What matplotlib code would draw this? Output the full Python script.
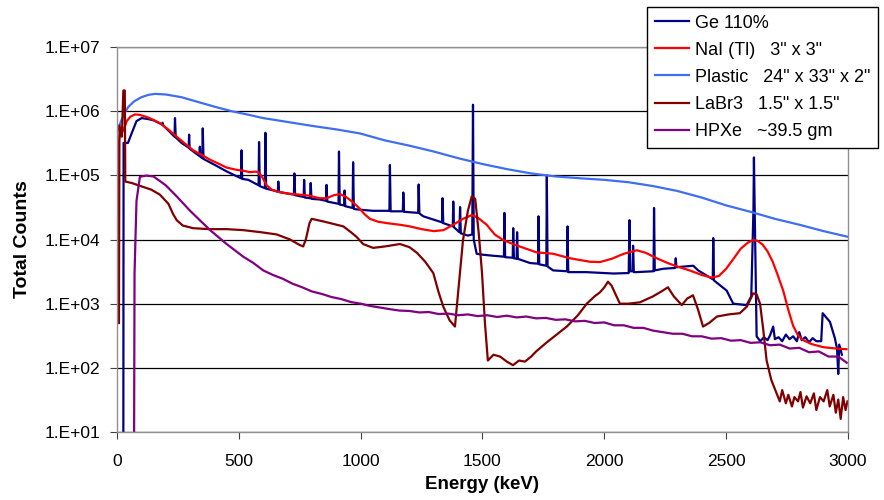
import numpy as np
import matplotlib.pyplot as plt
from matplotlib.ticker import FixedLocator, NullLocator

# ---- data (energy in keV, total counts) ----
ge_e = [26, 27, 45, 60, 80, 101, 130, 150, 185, 187, 190, 236, 238, 241, 265,
        294, 296, 298, 338, 340, 342, 350, 352, 355, 402, 450, 509, 511, 514,
        539, 581, 583, 586, 607, 609, 612, 635, 660, 662, 665, 700, 726, 728,
        731, 766, 768, 771, 792, 795, 798, 833, 858, 860, 863, 909, 911, 914,
        932, 934, 937, 967, 969, 972, 983, 1050, 1118, 1120, 1123, 1173, 1175,
        1178, 1236, 1238, 1241, 1257, 1325, 1334, 1336, 1339, 1378, 1380, 1383,
        1405, 1408, 1411, 1440, 1458, 1461, 1464, 1476, 1500, 1540, 1588, 1590,
        1593, 1624, 1626, 1629, 1640, 1642, 1645, 1695, 1728, 1730, 1733, 1762,
        1764, 1767, 1790, 1847, 1849, 1852, 1927, 2037, 2100, 2103, 2106, 2116,
        2118, 2121, 2130, 2202, 2204, 2207, 2242, 2290, 2293, 2296, 2365, 2385,
        2445, 2447, 2450, 2502, 2529, 2584, 2603, 2612, 2614, 2617, 2625, 2640,
        2655, 2670, 2680, 2693, 2700, 2715, 2730, 2745, 2760, 2775, 2790, 2800,
        2810, 2825, 2840, 2855, 2870, 2890, 2896, 2926, 2946, 2955, 2960, 2964,
        2975]
ge_counts = [5, 3.2e5, 3.2e5, 4.5e5, 7.0e5, 7.8e5, 7.5e5, 7.2e5, 6.2e5, 6.6e5,
             6.0e5, 4.0e5, 7.8e5, 3.9e5, 3.2e5, 2.7e5, 4.3e5, 2.6e5, 2.0e5,
             2.8e5, 1.95e5, 1.85e5, 5.4e5, 1.8e5, 1.45e5, 1.15e5, 9.0e4, 2.45e5,
             8.8e4, 8.5e4, 7.0e4, 3.3e5, 6.8e4, 6.3e4, 4.6e5, 6.2e4, 5.9e4,
             5.6e4, 8.0e4, 5.5e4, 5.2e4, 5.0e4, 1.07e5, 4.9e4, 4.6e4, 8.5e4,
             4.5e4, 4.4e4, 7.6e4, 4.3e4, 4.2e4, 4.0e4, 7.1e4, 3.9e4, 3.6e4,
             2.35e5, 3.5e4, 3.4e4, 5.8e4, 3.3e4, 3.1e4, 1.6e5, 3.0e4, 2.95e4,
             2.8e4, 2.8e4, 1.45e5, 2.75e4, 2.75e4, 5.4e4, 2.7e4, 2.6e4, 7.2e4,
             2.55e4, 2.3e4, 1.9e4, 1.85e4, 4.4e4, 1.8e4, 1.6e4, 3.9e4, 1.55e4,
             1.3e4, 3.2e4, 1.25e4, 1.15e4, 1.2e4, 1.26e6, 1.0e4, 6.0e3, 5.8e3,
             5.6e3, 5.4e3, 2.6e4, 5.3e3, 5.2e3, 1.5e4, 5.1e3, 5.0e3, 1.3e4,
             5.0e3, 4.3e3, 4.2e3, 2.3e4, 4.1e3, 3.9e3, 1.0e5, 3.8e3, 3.3e3,
             3.2e3, 1.6e4, 3.1e3, 3.1e3, 2.95e3, 3.0e3, 2.0e4, 3.2e3, 3.2e3,
             8.0e3, 3.1e3, 3.1e3, 3.2e3, 3.1e4, 3.3e3, 3.5e3, 3.6e3, 5.1e3,
             3.7e3, 3.9e3, 3.3e3, 2.4e3, 1.05e4, 2.3e3, 1.6e3, 1.0e3, 9.5e2,
             1.3e3, 3.0e4, 1.9e5, 3.0e4, 3.1e2, 2.6e2, 3.0e2, 2.7e2, 3.2e2,
             4.4e2, 2.8e2, 3.0e2, 2.6e2, 3.3e2, 2.8e2, 3.1e2, 2.6e2, 3.6e2,
             2.7e2, 3.0e2, 2.5e2, 2.9e2, 2.6e2, 2.6e2, 7.1e2, 5.2e2, 2.9e2,
             2.0e2, 80, 2.3e2, 1.6e2]

nai_e = [5, 8, 12, 20, 30, 40, 55, 74, 90, 110, 130, 150, 176, 210, 245, 280,
         313, 350, 382, 420, 450, 490, 518, 545, 565, 580, 595, 614, 635, 655,
         700, 750, 792, 830, 860, 890, 915, 940, 965, 990, 1015, 1038, 1070,
         1107, 1160, 1202, 1250, 1300, 1340, 1380, 1420, 1456, 1480, 1517, 1550,
         1585, 1640, 1722, 1790, 1859, 1941, 1982, 2030, 2080, 2133, 2170, 2220,
         2260, 2298, 2350, 2400, 2440, 2470, 2500, 2530, 2560, 2590, 2611, 2630,
         2650, 2670, 2690, 2710, 2734, 2755, 2775, 2795, 2816, 2850, 2898, 2950,
         2994]
nai_counts = [1.3e4, 3.5e5, 4.2e5, 4.6e5, 5.5e5, 7.0e5, 8.2e5, 8.9e5, 8.8e5,
              8.4e5, 7.9e5, 7.3e5, 6.5e5, 5.2e5, 4.0e5, 3.1e5, 2.45e5, 2.05e5,
              1.75e5, 1.5e5, 1.32e5, 1.22e5, 1.18e5, 1.12e5, 1.14e5, 1.13e5,
              9.5e4, 7.0e4, 6.0e4, 5.6e4, 5.2e4, 5.0e4, 4.8e4, 4.4e4, 4.4e4,
              4.9e4, 5.1e4, 4.6e4, 3.9e4, 3.2e4, 2.5e4, 2.1e4, 1.9e4, 1.8e4,
              1.7e4, 1.6e4, 1.45e4, 1.35e4, 1.4e4, 1.7e4, 2.1e4, 2.4e4, 2.2e4,
              1.7e4, 1.2e4, 9.8e3, 8.1e3, 6.3e3, 6.0e3, 5.1e3, 4.5e3, 4.45e3,
              5.0e3, 6.0e3, 6.8e3, 6.2e3, 5.0e3, 4.3e3, 3.8e3, 3.3e3, 2.8e3,
              2.55e3, 2.7e3, 3.5e3, 5.0e3, 7.2e3, 9.0e3, 9.8e3, 9.5e3, 8.3e3,
              6.5e3, 4.6e3, 2.9e3, 1.6e3, 8.0e2, 4.5e2, 3.2e2, 2.7e2, 2.35e2,
              2.1e2, 2.0e2, 1.95e2]

plastic_e = [0, 10, 20, 35, 47, 70, 100, 130, 156, 200, 265, 330, 402, 470, 539,
             600, 648, 720, 800, 900, 997, 1100, 1200, 1300, 1400, 1500, 1600,
             1700, 1800, 1900, 2000, 2100, 2200, 2300, 2400, 2500, 2600, 2700,
             2800, 2900, 3000]
plastic_counts = [4.8e5, 6.0e5, 7.5e5, 1.0e6, 1.17e6, 1.42e6, 1.65e6, 1.8e6,
                  1.86e6, 1.82e6, 1.65e6, 1.4e6, 1.17e6, 1.0e6, 8.8e5, 7.8e5,
                  7.3e5, 6.6e5, 5.9e5, 5.2e5, 4.5e5, 3.5e5, 2.9e5, 2.35e5,
                  1.85e5, 1.5e5, 1.25e5, 1.07e5, 9.6e4, 9.0e4, 8.5e4, 7.8e4,
                  6.8e4, 5.7e4, 4.5e4, 3.4e4, 2.7e4, 2.1e4, 1.7e4, 1.35e4, 1.1e4]

labr_e = [8, 10, 20, 26, 32, 34, 60, 107, 140, 176, 211, 230, 245, 270, 313,
          380, 450, 518, 590, 655, 710, 750, 764, 775, 790, 799, 850, 929, 960,
          983, 1010, 1051, 1100, 1161, 1200, 1231, 1265, 1298, 1320, 1339, 1365,
          1387, 1400, 1420, 1440, 1456, 1470, 1485, 1498, 1510, 1522, 1545,
          1572, 1600, 1625, 1650, 1674, 1700, 1720, 1764, 1800, 1846, 1890,
          1928, 1960, 1982, 2000, 2015, 2030, 2050, 2064, 2100, 2146, 2200,
          2240, 2261, 2285, 2318, 2340, 2364, 2385, 2405, 2430, 2462, 2510,
          2556, 2585, 2611, 2625, 2639, 2652, 2666, 2685, 2707, 2720, 2730,
          2745, 2755, 2770, 2780, 2795, 2805, 2815, 2830, 2845, 2860, 2870,
          2885, 2900, 2915, 2925, 2940, 2950, 2960, 2970, 2980, 2990, 2998]
labr_counts = [5e2, 6e5, 4e5, 2.1e6, 2.1e6, 8e4, 7.6e4, 6.6e4, 6.0e4, 5.0e4,
               3.6e4, 2.5e4, 2.0e4, 1.65e4, 1.5e4, 1.45e4, 1.45e4, 1.4e4,
               1.3e4, 1.2e4, 1.0e4, 8.2e3, 7.8e3, 1.0e4, 1.8e4, 2.1e4, 1.9e4,
               1.6e4, 1.3e4, 1.1e4, 8.5e3, 7.4e3, 7.8e3, 8.5e3, 7.6e3, 6.2e3,
               4.5e3, 3.0e3, 1.5e3, 9e2, 5.5e2, 4.4e2, 1.5e3, 9.8e3, 2.8e4,
               4.7e4, 4.3e4, 1.2e4, 3.0e3, 5e2, 1.3e2, 1.6e2, 1.5e2, 1.25e2,
               1.1e2, 1.3e2, 1.25e2, 1.5e2, 1.8e2, 2.5e2, 3.2e2, 4.4e2, 6.5e2,
               1.0e3, 1.3e3, 1.5e3, 1.8e3, 2.2e3, 1.9e3, 1.3e3, 1.0e3, 1.0e3,
               1.05e3, 1.3e3, 1.6e3, 1.8e3, 1.3e3, 9.5e2, 1.2e3, 1.35e3, 8e2,
               4.4e2, 5.0e2, 6.3e2, 6.8e2, 7.1e2, 9e2, 1.45e3, 1.4e3, 1.0e3,
               4e2, 1.3e2, 65, 40, 30, 45, 28, 38, 25, 35, 30, 42, 24, 36, 28,
               40, 22, 35, 30, 45, 25, 38, 20, 32, 16, 35, 22, 30]

hpxe_e = [70, 72, 80, 94, 120, 150, 200, 245, 300, 382, 450, 518, 560, 600,
          640, 680, 720, 760, 800, 840, 880, 920, 960, 1000, 1040, 1080, 1120,
          1160, 1200, 1240, 1280, 1320, 1360, 1400, 1440, 1480, 1520, 1560,
          1600, 1640, 1680, 1720, 1760, 1800, 1840, 1880, 1920, 1960, 2000,
          2040, 2080, 2120, 2160, 2200, 2240, 2280, 2320, 2360, 2400, 2440,
          2480, 2520, 2560, 2600, 2640, 2680, 2720, 2760, 2800, 2840, 2880,
          2920, 2960, 2995]
hpxe_counts = [5, 3e3, 4e4, 9.5e4, 9.9e4, 9.6e4, 7.0e4, 4.7e4, 2.8e4, 1.4e4,
               8.5e3, 5.4e3, 4.3e3, 3.3e3, 2.8e3, 2.45e3, 2.05e3, 1.8e3, 1.55e3,
               1.42e3, 1.27e3, 1.18e3, 1.06e3, 1.0e3, 9.2e2, 8.7e2, 8.2e2,
               7.8e2, 7.7e2, 7.3e2, 7.4e2, 6.9e2, 7.0e2, 6.6e2, 6.8e2, 6.4e2,
               6.6e2, 6.2e2, 6.5e2, 6.1e2, 6.3e2, 5.9e2, 6.0e2, 5.6e2, 5.7e2,
               5.3e2, 5.4e2, 5.0e2, 5.1e2, 4.6e2, 4.6e2, 4.2e2, 4.2e2, 3.8e2,
               3.6e2, 3.4e2, 3.4e2, 3.1e2, 3.1e2, 2.85e2, 2.9e2, 2.65e2, 2.7e2,
               2.45e2, 2.5e2, 2.25e2, 2.3e2, 2.0e2, 2.05e2, 1.75e2, 1.8e2,
               1.5e2, 1.5e2, 1.2e2]

series = [
    ("Ge 110%", ge_e, ge_counts, "#000080"),
    ('NaI (Tl)   3" x 3"', nai_e, nai_counts, "#FF0000"),
    ('Plastic   24" x 33" x 2"', plastic_e, plastic_counts, "#3F6FF0"),
    ('LaBr3   1.5" x 1.5"', labr_e, labr_counts, "#800000"),
    ("HPXe   ~39.5 gm", hpxe_e, hpxe_counts, "#800080"),
]

decades = [1e1, 1e2, 1e3, 1e4, 1e5, 1e6, 1e7]
decade_labels = ["1.E+01", "1.E+02", "1.E+03", "1.E+04", "1.E+05", "1.E+06", "1.E+07"]
x_ticks = [0, 500, 1000, 1500, 2000, 2500, 3000]

plt.rcParams['font.family'] = ['Liberation Sans', 'DejaVu Sans']

fig = plt.figure(figsize=(8.84, 5.0), dpi=100)
ax = fig.add_axes([117 / 884, 68 / 500, 731 / 884, 385 / 500])

for label, e, c, color in series:
    ax.plot(e, c, color=color, lw=1.6, label=label)

ax.set_yscale("log")
ax.set_xlim(0, 3000)
ax.set_ylim(1e1, 1e7)
ax.yaxis.set_major_locator(FixedLocator(decades))
ax.yaxis.set_minor_locator(NullLocator())
ax.set_yticklabels(decade_labels)
ax.set_xticks(x_ticks)
ax.tick_params(axis="both", labelsize=12.5, length=5, color="#404040")
ax.tick_params(axis="y", pad=7)
ax.tick_params(axis="x", pad=11)

for y in decades:
    ax.axhline(y, color="black", lw=0.9, zorder=0.5)
for s in ax.spines.values():
    s.set_color("#909090")
    s.set_linewidth(1.0)

ax.set_xlabel("Energy (keV)", fontsize=13.5, fontweight="bold", labelpad=5)
ax.set_ylabel("Total Counts", fontsize=14, fontweight="bold", labelpad=10)

leg = fig.legend(loc="upper right", bbox_to_anchor=(878 / 884, 1 - 7 / 500),
                 fontsize=13, frameon=True, fancybox=False, framealpha=1,
                 edgecolor="black", handlelength=1.9, handletextpad=0.33,
                 labelspacing=0.56, borderpad=0.42, borderaxespad=0)
leg.get_frame().set_linewidth(1.0)

fig.savefig("out.png", dpi=100)
